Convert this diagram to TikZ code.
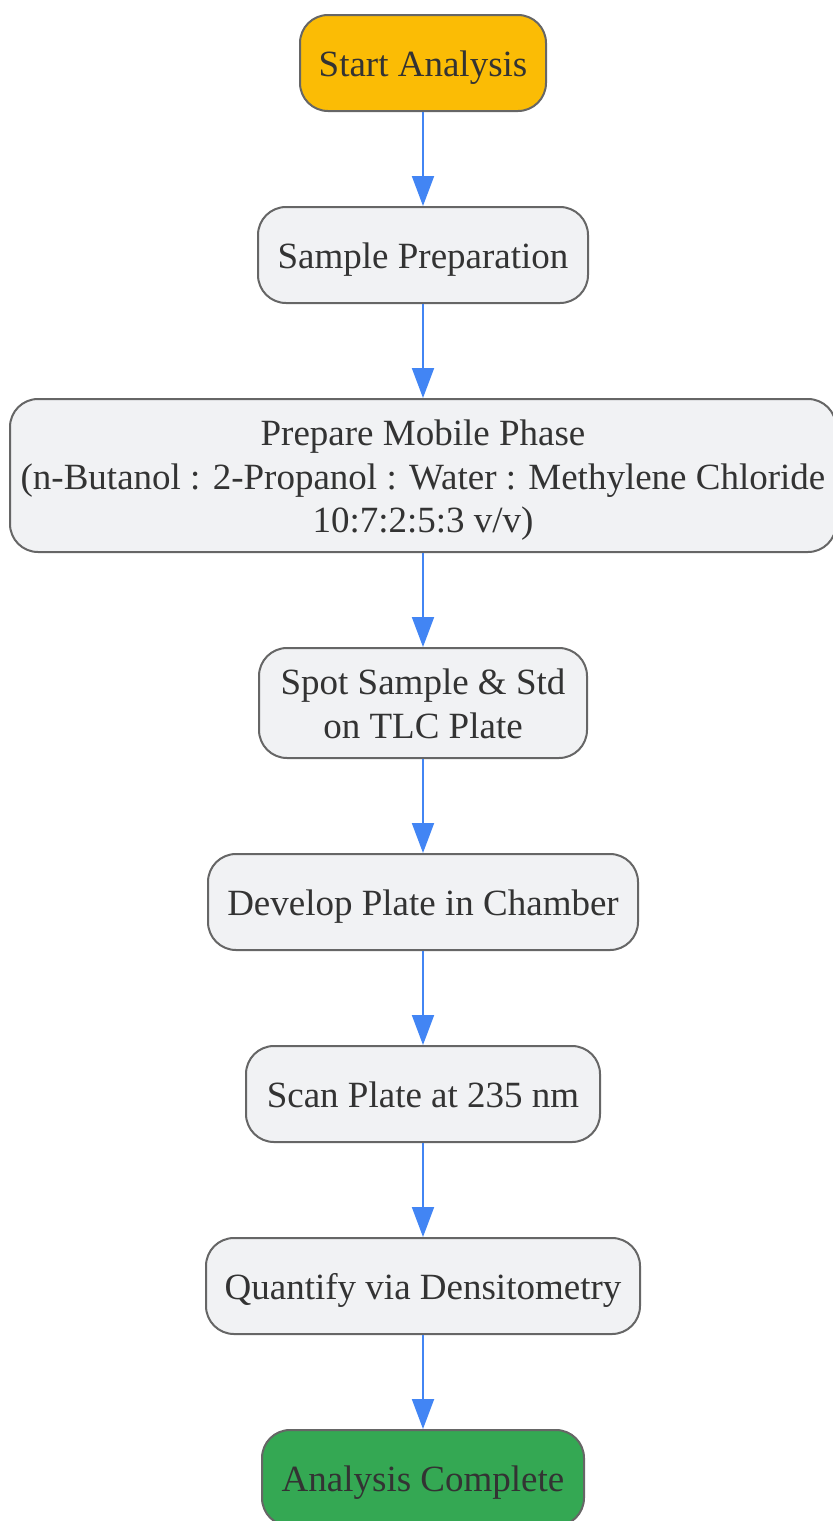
\documentclass[tikz,border=0pt]{standalone}
\usepackage{fontspec}
\setmainfont{Liberation Serif}
\usepackage{tikz}
\usetikzlibrary{arrows.meta,calc}
\definecolor{stepfill}{HTML}{F1F2F4}
\definecolor{stepline}{HTML}{666666}
\definecolor{starty}{HTML}{FBBC05}
\definecolor{endg}{HTML}{34A853}
\definecolor{flowblue}{HTML}{4285F4}
\definecolor{txt}{HTML}{333333}
\newcommand{\lnstrut}{\rule[-3.8pt]{0pt}{21.3pt}}

\begin{document}
\begin{tikzpicture}[x=0.5pt,y=-0.5pt,
  box/.style={draw=stepline, fill=stepfill, line width=1pt, rounded corners=14pt,
    inner sep=0pt, align=center, text=txt, minimum height=48pt,
    font=\fontsize{18.5pt}{21.75pt}\selectfont,
    execute at begin node=\lnstrut, execute at end node=\lnstrut},
  flow/.style={draw=flowblue, line width=1pt, -{Triangle[length=15pt,width=11pt]}}]
\useasboundingbox (0,0) rectangle (833,1521);
\node[box, fill=starty, minimum width=123pt] (start) at (423,63) {Start Analysis};
\node[box, minimum width=165pt] (sample) at (423,255) {Sample Preparation};
\node[box, minimum width=413pt, minimum height=76.5pt] (mobile) at (423,475.5)
  {\lnstrut Prepare Mobile Phase\\(n-Butanol : 2-Propanol : Water : Methylene Chloride\\10:7:2:5:3 v/v)};
\node[box, minimum width=164pt, minimum height=55pt] (spot) at (423,703) {\lnstrut Spot Sample \& Std\\on TLC Plate};
\node[box, minimum width=215pt] (develop) at (423,902) {Develop Plate in Chamber};
\node[box, minimum width=177pt] (scan) at (423,1094) {Scan Plate at 235 nm};
\node[box, minimum width=217pt] (quant) at (423,1286) {Quantify via Densitometry};
\node[box, fill=endg, minimum width=161pt] (done) at (423,1478) {Analysis Complete};
% connectors
\draw[flow] (start) -- (sample);
\draw[flow] (sample) -- (mobile);
\draw[flow] (mobile) -- (spot);
\draw[flow] (spot) -- (develop);
\draw[flow] (develop) -- (scan);
\draw[flow] (scan) -- (quant);
\draw[flow] (quant) -- (done);
\end{tikzpicture}
\end{document}
